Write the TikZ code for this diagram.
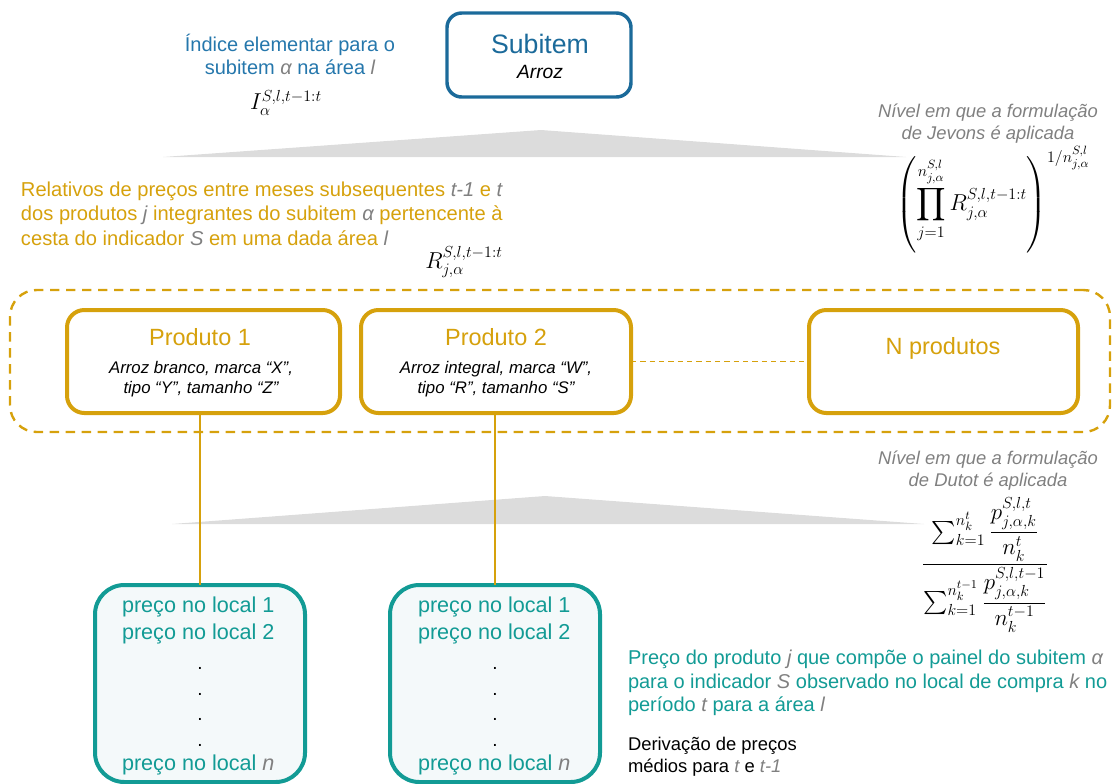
\documentclass[tikz,border=0pt]{standalone}
\usepackage{amsmath}
\usepackage{fontspec}
\setmainfont{Liberation Sans}
\usetikzlibrary{fit}

\definecolor{blueS}{HTML}{1B6A9A}
\definecolor{blueT}{HTML}{2577AC}
\definecolor{gold}{HTML}{D6A10C}
\definecolor{tealc}{HTML}{129B95}
\definecolor{tealbg}{HTML}{F4F9FA}
\definecolor{varg}{HTML}{808080}
\definecolor{wedgegray}{HTML}{DCDCDC}

% grey italic symbol inside coloured running text
\newcommand\gv[1]{\textcolor{varg}{\itshape #1}}

\tikzset{
  every node/.style={inner sep=0pt, outer sep=0pt},
  subbox/.style={draw=blueS, line width=2.6pt, rounded corners=11pt},
  prodbox/.style={draw=gold, line width=3pt, rounded corners=13pt, fill=white},
  grpbox/.style={draw=gold, line width=1.8pt, dash pattern=on 7pt off 5pt, rounded corners=20pt},
  pricebox/.style={draw=tealc, fill=tealbg, line width=3pt, rounded corners=22pt},
  link/.style={draw=gold, line width=1.1pt},
  dlink/.style={draw=gold, line width=0.9pt, dash pattern=on 4pt off 3pt},
  wedge/.style={fill=wedgegray},
  bluetxt/.style={text=blueT, font=\fontsize{15}{17.25}\selectfont, align=center},
  goldtxt/.style={text=gold, font=\fontsize{15.1}{18.2}\selectfont, align=left},
  tealtxt/.style={text=tealc, font=\fontsize{15}{17.7}\selectfont, align=left},
  notetxt/.style={text=varg, font=\fontsize{13.8}{16.5}\selectfont\itshape, align=center},
  mathtxt/.style={font=\fontsize{17.5}{20}\selectfont},
  prodtitle/.style={text=gold, font=\fontsize{17.6}{20}\selectfont},
  proddesc/.style={font=\fontsize{12.6}{14.6}\selectfont\itshape, align=center},
  pricetxt/.style={text=tealc, font=\fontsize{16.2}{19}\selectfont, anchor=west},
  dotmark/.style={font=\fontsize{14.25}{17}\selectfont, anchor=base},
}

\begin{document}
\begin{tikzpicture}[x=0.75pt, y=-0.75pt]
\useasboundingbox (0,0) rectangle (1113,783);

% grey level wedges
\fill[wedge] (163,157) -- (541,130) -- (906,157) -- cycle;
\fill[wedge] (172,524) -- (545,496) -- (924,524) -- cycle;

% subitem
\node[subbox, fit={(447,13) (631,97)}] (sub) {};
\node[text=blueS, font=\fontsize{20}{24}\selectfont] (subt) at (540,44) {Subitem};
\node[font=\fontsize{14.4}{17}\selectfont\itshape] (subd) at (540,72) {Arroz};

\node[bluetxt, anchor=north] (idx) at (290,34)
  {Índice elementar para o\\subitem \gv{α} na área \gv{l}};
\node[mathtxt] (idxf) at (286,103) {$I_{\alpha}^{S,l,t-1{:}t}$};

% Jevons level
\node[notetxt, anchor=north] (jev) at (988,104)
  {Nível em que a formulação\\de Jevons é aplicada};
\node[mathtxt] (jevf) at (993,200)
  {$\displaystyle\left(\prod_{j=1}^{n_{j,\alpha}^{S,l}} R_{j,\alpha}^{S,l,t-1{:}t}\right)^{1/n_{j,\alpha}^{S,l}}$};

% price relatives
\node[goldtxt, anchor=north west] (rel) at (21,182)
  {Relativos de preços entre meses subsequentes \gv{t-1} e \gv{t}\\
   dos produtos \gv{j} integrantes do subitem \gv{α} pertencente à\\
   cesta do indicador \gv{S} em uma dada área \gv{l}};
\node[mathtxt] (relf) at (464,262) {$R_{j,\alpha}^{S,l,t-1{:}t}$};

% products
\node[grpbox, fit={(10,290) (1110,432)}] (grp) {};
\node[prodbox, fit={(67,310) (340,413)}] (p1) {};
\node[prodbox, fit={(361,310) (631,413)}] (p2) {};
\node[prodbox, fit={(809,310) (1078,413)}] (pn) {};

\node[prodtitle] (p1t) at (200,337) {Produto 1};
\node[prodtitle] (p2t) at (496,337) {Produto 2};
\node[proddesc] (p1d) at (201,379) {Arroz branco, marca “X”,\\tipo “Y”, tamanho “Z”};
\node[proddesc] (p2d) at (496,379) {Arroz integral, marca “W”,\\tipo “R”, tamanho “S”};
\node[prodtitle] (pnt) at (943,348) {N produtos};

\draw[dlink] (p2.east) -- (pn.west);

% Dutot level
\node[notetxt, anchor=north] (dut) at (988,451)
  {Nível em que a formulação\\de Dutot é aplicada};
\node[mathtxt] (dutf) at (985,565)
  {$\dfrac{\sum_{k=1}^{n_k^{t}} \dfrac{p_{j,\alpha,k}^{S,l,t}}{n_k^{t}}}
          {\sum_{k=1}^{n_k^{t-1}} \dfrac{p_{j,\alpha,k}^{S,l,t-1}}{n_k^{t-1}}}$};

% price lists per product
\node[pricebox, fit={(95,585) (305,782)}] (l1) {};
\node[pricebox, fit={(390,585) (600,782)}] (l2) {};

\draw[link] (l1.north |- p1.south) -- (l1.north);
\draw[link] (l2.north |- p2.south) -- (l2.north);

\node[pricetxt] (l1a) at (122,607) {preço no local 1};
\node[pricetxt] (l1b) at (122,634) {preço no local 2};
\node[dotmark] (l1c) at (200,669) {.};
\node[dotmark] (l1d) at (200,695) {.};
\node[dotmark] (l1e) at (200,720) {.};
\node[dotmark] (l1f) at (200,746) {.};
\node[pricetxt] (l1g) at (122,765) {preço no local \gv{n}};

\node[pricetxt] (l2a) at (418,607) {preço no local 1};
\node[pricetxt] (l2b) at (418,634) {preço no local 2};
\node[dotmark] (l2c) at (495,669) {.};
\node[dotmark] (l2d) at (495,695) {.};
\node[dotmark] (l2e) at (495,720) {.};
\node[dotmark] (l2f) at (495,746) {.};
\node[pricetxt] (l2g) at (418,765) {preço no local \gv{n}};

% explanatory notes
\node[tealtxt, anchor=north west] (pdesc) at (628,650)
  {Preço do produto \gv{j} que compõe o painel do subitem \gv{α}\\
   para o indicador \gv{S} observado no local de compra \gv{k} no\\
   período \gv{t} para a área \gv{l}};
\node[font=\fontsize{13.8}{16.5}\selectfont, align=left, anchor=north west] (deriv) at (628,737)
  {Derivação de preços\\médios para \gv{t} e \gv{t-1}};
\end{tikzpicture}
\end{document}
